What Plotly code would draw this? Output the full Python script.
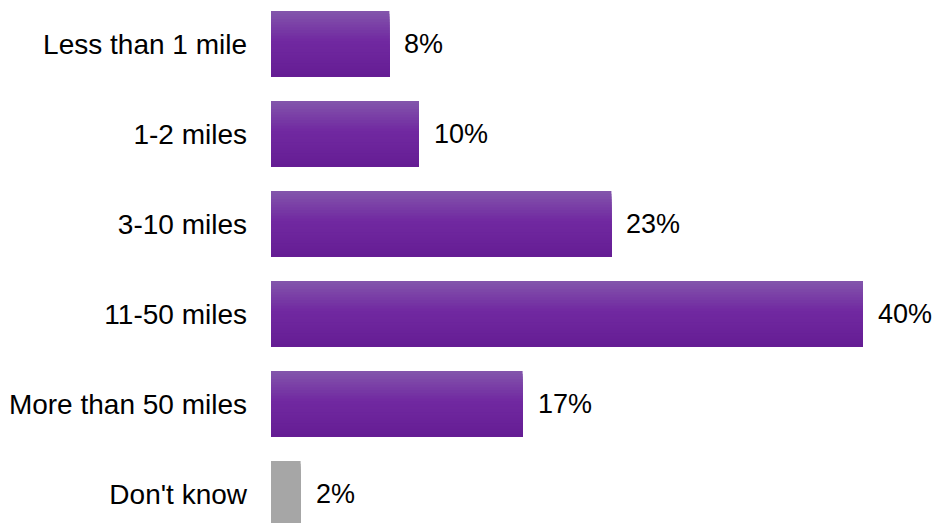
import plotly.graph_objects as go

# Survey: distance travelled
categories = ["Less than 1 mile", "1-2 miles", "3-10 miles", "11-50 miles",
              "More than 50 miles", "Don't know"]
values = [8, 10, 23, 40, 17, 2]
value_labels = ["8%", "10%", "23%", "40%", "17%", "2%"]
is_unknown = [False, False, False, False, False, True]

FONT = "Arial, Liberation Sans, Helvetica, sans-serif"
BAR_W = 66 / 90          # bar thickness in category units
N_STRIPS = 24            # vertical gradient resolution
GRAY = "rgb(166,166,166)"

# purple vertical gradient stops (t from top=0 to bottom=1)
stops = [(0.0, (131, 86, 171)), (0.45, (113, 41, 161)), (1.0, (101, 29, 147))]


def grad(t):
    for (t0, c0), (t1, c1) in zip(stops[:-1], stops[1:]):
        if t <= t1:
            f = (t - t0) / (t1 - t0) if t1 > t0 else 0
            c = [round(a + (b - a) * f) for a, b in zip(c0, c1)]
            return f"rgb({c[0]},{c[1]},{c[2]})"
    c = stops[-1][1]
    return f"rgb({c[0]},{c[1]},{c[2]})"


fig = go.Figure()
# each strip starts lower and runs to the bar bottom; later strips cover earlier ones
for k in range(N_STRIPS):
    t = (k + 0.5) / N_STRIPS
    start = -BAR_W / 2 + k * BAR_W / N_STRIPS
    colors = [GRAY if u else grad(t) for u in is_unknown]
    fig.add_trace(go.Bar(
        x=values, y=categories, orientation="h",
        offset=start, width=BAR_W - k * BAR_W / N_STRIPS,
        marker=dict(color=colors, line=dict(width=0)),
        hoverinfo="skip", showlegend=False,
    ))

for c, v, lab in zip(categories, values, value_labels):
    fig.add_annotation(x=v, y=c, text=lab, showarrow=False, xanchor="left",
                       xshift=13, font=dict(family=FONT, size=27, color="#000"))

fig.update_layout(
    width=936, height=523,
    margin=dict(l=271, r=0, t=0, b=0),
    barmode="overlay",
    plot_bgcolor="white", paper_bgcolor="white",
    xaxis=dict(range=[0, 665 / 14.8], visible=False, fixedrange=True),
    yaxis=dict(categoryorder="array", categoryarray=categories,
               range=[479 / 90, -44 / 90], showgrid=False, zeroline=False,
               showline=False, ticks="", ticklabelstandoff=23,
               tickfont=dict(family=FONT, size=28, color="#000")),
)

fig.write_html("out.html")
